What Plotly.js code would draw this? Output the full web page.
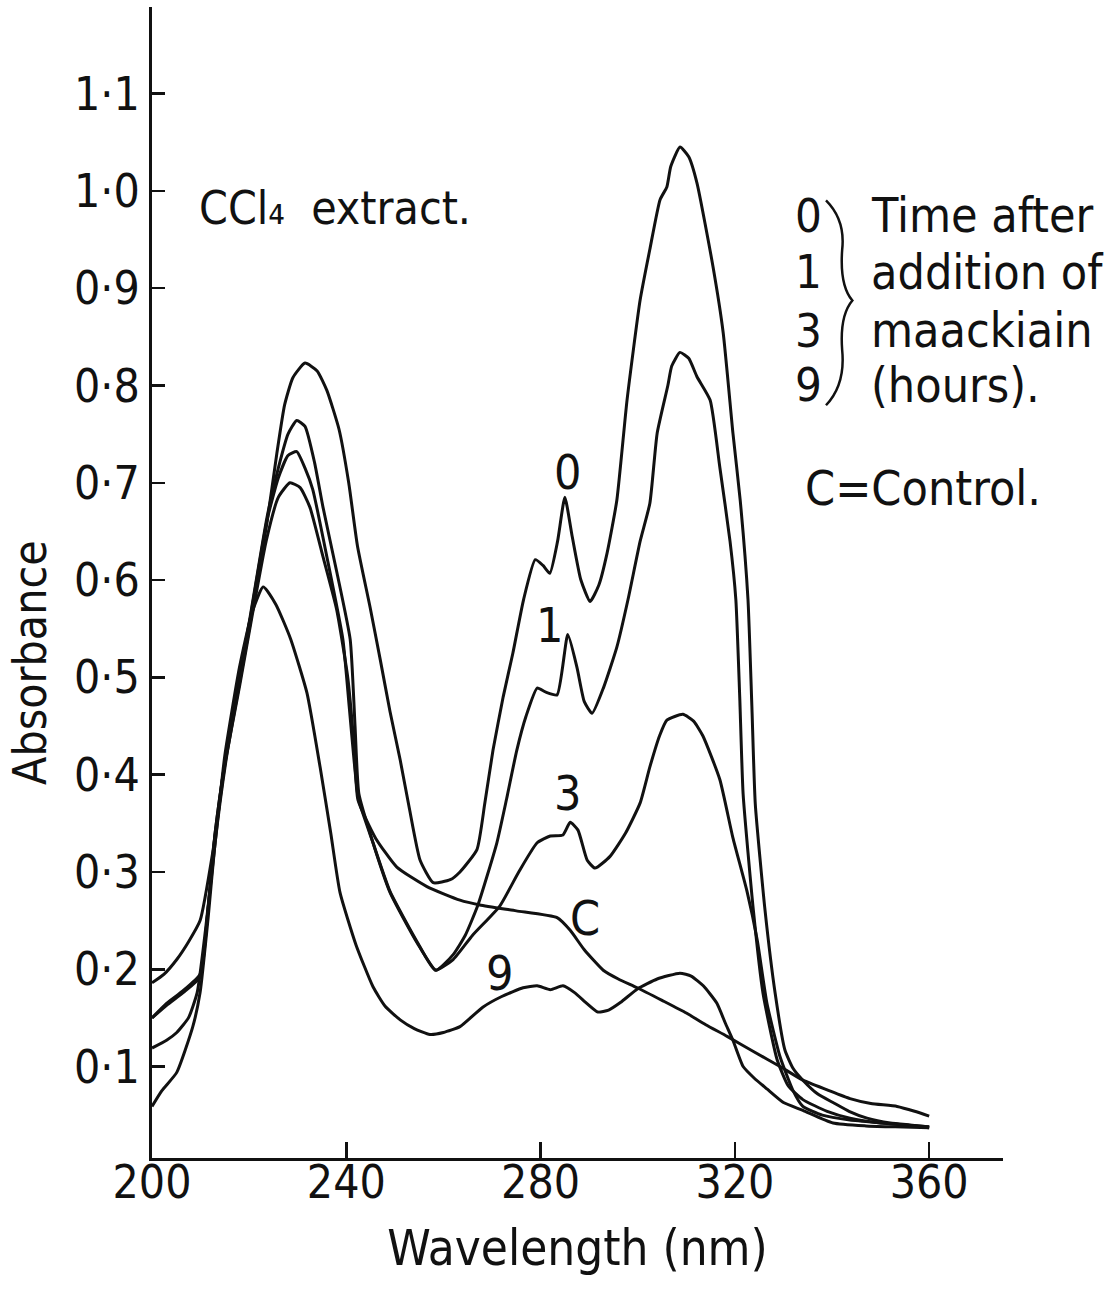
<!DOCTYPE html>
<html>
<head>
<meta charset="utf-8">
<script src="https://cdn.plot.ly/plotly-3.0.1.min.js"></script>
<style>html,body{margin:0;padding:0;background:#fff;}#chart{width:1115px;height:1311px;}</style>
</head>
<body>
<div id="chart"></div>
<script>
// ---- data ----
const xTicks = [200, 240, 280, 320, 360];
const xTickText = ["200", "240", "280", "320", "360"];
const yTicks = [0.1, 0.2, 0.3, 0.4, 0.5, 0.6, 0.7, 0.8, 0.9, 1.0, 1.1];
const yTickText = ["0·1", "0·2", "0·3", "0·4", "0·5", "0·6", "0·7", "0·8", "0·9", "1·0", "1·1"];

// curve 0 h
const wl0 = [200,202,205.1,208.4,209.9,211.5,213,215.4,220.2,223.7,225.7,227.3,229,231.5,234,236,238.5,240.5,242.3,244.9,247,249,251.1,253,255.2,257.9,261.4,263.4,266.9,268.5,270.2,272.3,274.3,276.5,278.9,280.5,281.9,283.5,285,286.5,288.3,290.2,292,293.7,295.7,297.8,300.5,302.5,304.6,306,306.8,308.7,310.5,312.2,315.5,317.6,319.6,321.1,322.7,323.5,324.2,326.2,328.3,330.3,332,334,337,340.2,343.5,347.2,352,356,360];
const abs0 = [0.059,0.075,0.094,0.141,0.176,0.25,0.33,0.42,0.555,0.66,0.73,0.78,0.808,0.823,0.815,0.795,0.755,0.70,0.635,0.572,0.518,0.465,0.415,0.365,0.312,0.289,0.292,0.30,0.323,0.37,0.425,0.48,0.525,0.58,0.621,0.615,0.607,0.64,0.685,0.645,0.60,0.578,0.595,0.628,0.682,0.785,0.888,0.94,0.991,1.004,1.025,1.045,1.035,1.008,0.922,0.854,0.751,0.682,0.58,0.47,0.37,0.261,0.175,0.117,0.098,0.086,0.072,0.063,0.054,0.047,0.042,0.040,0.038];

// curve 1 h
const wl1 = [200,203,206.4,209.9,211.5,213,215.4,220.2,223.7,226,228,229.8,231.5,233.5,235.2,238.1,240.8,241.8,242.6,245.5,249,254.6,258.5,262,264.5,267.1,271,273,275.1,277,279.3,281,283.4,285.6,287.5,289,290.6,293,295.7,298,300.5,302.5,304,306.2,307,308.7,310.5,312.2,314.9,316.9,319,320.2,321,321.7,323.8,325.8,328.7,331,334,339,343.7,350,355,360];
const abs1 = [0.150,0.163,0.176,0.192,0.26,0.34,0.425,0.562,0.665,0.715,0.75,0.764,0.758,0.72,0.675,0.607,0.539,0.45,0.38,0.33,0.279,0.227,0.199,0.215,0.235,0.266,0.33,0.375,0.425,0.46,0.489,0.485,0.482,0.544,0.51,0.475,0.463,0.49,0.531,0.58,0.64,0.679,0.751,0.80,0.82,0.834,0.828,0.809,0.785,0.716,0.64,0.58,0.48,0.38,0.261,0.175,0.107,0.08,0.066,0.054,0.047,0.042,0.040,0.038];

// curve 3 h
const wl3 = [200,203,206.4,209.9,211.5,213,215.4,220.2,223.7,226,228,229.8,231.5,233.1,236,239.3,240.6,241.5,242.5,245.5,249,254.6,258.3,262,266,271.6,275.5,279.3,282,284.6,286.1,287.7,289.6,291.2,294.3,297.5,300.5,302.5,304.5,306,309.3,311.5,313.4,316.9,319.6,322.5,324.6,326.6,329.3,332,334,338,343.7,350.5,355,360];
const abs3 = [0.150,0.165,0.178,0.195,0.26,0.34,0.425,0.56,0.662,0.705,0.728,0.732,0.715,0.693,0.624,0.539,0.47,0.42,0.375,0.33,0.28,0.228,0.199,0.21,0.235,0.265,0.30,0.33,0.337,0.338,0.351,0.343,0.312,0.304,0.316,0.34,0.371,0.408,0.44,0.456,0.462,0.455,0.44,0.395,0.335,0.28,0.23,0.165,0.11,0.075,0.059,0.05,0.045,0.042,0.040,0.037];

// curve 9 h
const wl9 = [200,203,205.1,207.5,209.3,211,213,215,218,220.5,222.9,225.5,228.5,231.9,234.6,236.8,238.7,242,245.5,248,251.1,254,257.2,260,263.4,268.1,272,276.4,279.3,282,284.6,287,289.5,291.8,294,296.5,300,304,308.7,311,313.5,316.3,318,319.6,321.7,324,326.6,330,334,340.2,347,353,360];
const abs9 = [0.119,0.127,0.135,0.15,0.176,0.24,0.33,0.42,0.51,0.565,0.593,0.575,0.54,0.484,0.408,0.34,0.279,0.225,0.182,0.162,0.148,0.139,0.133,0.135,0.141,0.161,0.172,0.181,0.183,0.179,0.183,0.176,0.165,0.156,0.158,0.166,0.18,0.19,0.196,0.193,0.183,0.165,0.145,0.127,0.10,0.088,0.077,0.063,0.055,0.042,0.039,0.038,0.037];

// control C
const wlC = [200,202.5,205.1,207.5,209.9,212.5,215,218,220.5,223.5,226,228.4,230.5,232.5,235.2,238,240.3,241.6,242.4,246,250.4,256.6,263.4,267.5,275,283.4,286.1,289,292.9,296,299.9,305,310,314,318.4,324,329.3,334,339,343.7,348,353.4,357,360];
const absC = [0.186,0.195,0.21,0.228,0.25,0.32,0.41,0.49,0.56,0.64,0.685,0.70,0.695,0.675,0.624,0.57,0.50,0.43,0.374,0.335,0.305,0.285,0.271,0.266,0.26,0.253,0.24,0.22,0.199,0.19,0.181,0.168,0.155,0.143,0.131,0.115,0.10,0.086,0.076,0.067,0.062,0.059,0.054,0.049];

const seriesNames = ["0", "1", "3", "9", "C"];
const seriesX = [wl0, wl1, wl3, wl9, wlC];
const seriesY = [abs0, abs1, abs3, abs9, absC];

// curve labels written next to the curves
const curveLabelText = ["0", "1", "3", "C", "9"];
const curveLabelX = [285.6, 281.9, 285.6, 289.1, 271.6];
const curveLabelY = [0.711, 0.554, 0.381, 0.253, 0.196];

// key text at right
const keyNums = ["0", "1", "3", "9"];
const keyLines = ["Time after", "addition of", "maackiain", "(hours)."];
const keyY = [0.975, 0.917, 0.857, 0.801];

const FONT = "DejaVu Sans Condensed, DejaVu Sans, sans-serif";
const INK = "#111";

const traces = seriesX.map((xs, i) => ({
  type: "scatter", mode: "lines", name: seriesNames[i],
  x: xs, y: seriesY[i],
  line: {color: INK, width: 3, shape: "spline", smoothing: 0.5},
  showlegend: false, hoverinfo: "x+y+name"
}));

const annotations = [];
curveLabelText.forEach((t, i) => annotations.push({
  x: curveLabelX[i], y: curveLabelY[i], xref: "x", yref: "y", text: t,
  showarrow: false, font: {family: FONT, size: 48, color: INK}, xanchor: "center", yanchor: "middle"
}));
keyNums.forEach((t, i) => annotations.push({
  x: 335.2, y: keyY[i], xref: "x", yref: "y", text: t,
  showarrow: false, font: {family: FONT, size: 47, color: INK}, xanchor: "center", yanchor: "middle"
}));
keyLines.forEach((t, i) => annotations.push({
  x: 347.6, y: keyY[i], xref: "x", yref: "y", text: t,
  showarrow: false, font: {family: FONT, size: 48, color: INK}, xanchor: "left", yanchor: "middle"
}));
annotations.push({
  x: 334.0, y: 0.695, xref: "x", yref: "y", text: "C=Control.",
  showarrow: false, font: {family: FONT, size: 48, color: INK}, xanchor: "left", yanchor: "middle"
});
annotations.push({
  x: 209.3, y: 0.982, xref: "x", yref: "y", text: "CCl₄  extract.",
  showarrow: false, font: {family: FONT, size: 46, color: INK}, xanchor: "left", yanchor: "middle"
});
annotations.push({
  x: -0.1434, y: 0.431, xref: "paper", yref: "paper", text: "Absorbance", textangle: -90,
  showarrow: false, font: {family: FONT, size: 46, color: INK}, xanchor: "center", yanchor: "middle"
});

const shapes = [{
  type: "path", xref: "paper", yref: "paper",
  path: "M 0.792 0.832 Q 0.815 0.815 0.811 0.789 Q 0.808 0.758 0.823 0.745 Q 0.808 0.732 0.811 0.702 Q 0.815 0.672 0.792 0.654",
  line: {color: INK, width: 2.5}
}];

const layout = {
  width: 1115, height: 1311,
  margin: {l: 152, r: 112, t: 7, b: 153, pad: 0},
  paper_bgcolor: "#fff", plot_bgcolor: "#fff",
  font: {family: FONT, color: INK},
  showlegend: false,
  xaxis: {
    range: [200, 375.2], showgrid: false, zeroline: false,
    showline: true, linecolor: INK, linewidth: 3,
    ticks: "inside", ticklen: 16, tickwidth: 2.5, tickcolor: INK,
    tickvals: xTicks, ticktext: xTickText, ticklabelstandoff: -18,
    tickfont: {family: FONT, size: 46, color: INK},
    title: {text: "Wavelength (nm)", font: {family: FONT, size: 49, color: INK}, standoff: 23}
  },
  yaxis: {
    range: [0.006, 1.189], showgrid: false, zeroline: false,
    showline: true, linecolor: INK, linewidth: 3,
    ticks: "inside", ticklen: 13, tickwidth: 2.5, tickcolor: INK,
    tickvals: yTicks, ticktext: yTickText,
    tickfont: {family: FONT, size: 46, color: INK}
  },
  annotations: annotations,
  shapes: shapes
};

Plotly.newPlot("chart", traces, layout, {staticPlot: true, displayModeBar: false});
</script>
</body>
</html>
